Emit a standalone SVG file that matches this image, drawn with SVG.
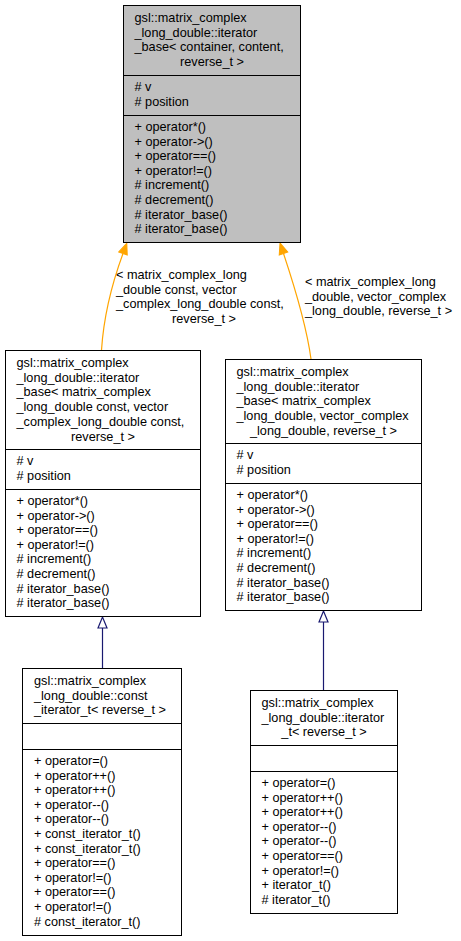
<svg xmlns="http://www.w3.org/2000/svg" width="461" height="941" viewBox="0 0 461 941">
<style>
text{font-family:"Liberation Sans",Arial,Helvetica,sans-serif;font-size:12.7px;fill:#000}
.c{text-anchor:middle}
.box{fill:#fff;stroke:#000;stroke-width:1}
.root{fill:#bfbfbf;stroke:#000;stroke-width:1}
.div{stroke:#000;stroke-width:1}
.tpl{fill:none;stroke:#ffa500;stroke-width:1.2}
.inh{fill:none;stroke:#191970;stroke-width:1.2}
</style>
<defs>
<marker id="ao" markerUnits="userSpaceOnUse" markerWidth="14" markerHeight="12" viewBox="0 -6 14 12" refX="0" refY="0" orient="auto" overflow="visible">
<path d="M0,-4.5 L11,0 L0,4.5 z" fill="#ffa500" stroke="#ffa500"/>
</marker>
<marker id="ab" markerUnits="userSpaceOnUse" markerWidth="14" markerHeight="12" viewBox="0 -6 14 12" refX="0" refY="0" orient="auto" overflow="visible">
<path d="M0,-4.5 L11,0 L0,4.5 z" fill="#fff" stroke="#191970" stroke-width="1.2"/>
</marker>
</defs>
<g id="edges">
<path class="tpl" d="M101.5,350 C104,312 114,278 123,253.5" marker-end="url(#ao)"/>
<path class="tpl" d="M311,359 C306,322 293,282 283.5,253.5" marker-end="url(#ao)"/>
<path class="inh" d="M102.5,668.5 L102.5,628" marker-end="url(#ab)"/>
<path class="inh" d="M323.5,690.5 L323.5,622" marker-end="url(#ab)"/>
<text x="116" y="279">&lt; matrix_complex_long</text>
<text x="116" y="293.6">_double const, vector</text>
<text x="116" y="308.2">_complex_long_double const,</text>
<text x="204" y="322.8" class="c">reverse_t &gt;</text>
<text x="305" y="286">&lt; matrix_complex_long</text>
<text x="305" y="300.6">_double, vector_complex</text>
<text x="305" y="315.2">_long_double, reverse_t &gt;</text>
</g>
<g id="node-base">
<rect class="root" x="123.5" y="5.5" width="177" height="237"/>
<line class="div" x1="123.5" y1="75.5" x2="300.5" y2="75.5"/>
<line class="div" x1="123.5" y1="115.5" x2="300.5" y2="115.5"/>
<text x="134.5" y="22">gsl::matrix_complex</text>
<text x="134.5" y="36.7">_long_double::iterator</text>
<text x="134.5" y="51.4">_base&lt; container, content,</text>
<text x="212" y="66.1" class="c">reverse_t &gt;</text>
<text x="134.5" y="91"># v</text>
<text x="134.5" y="105.6"># position</text>
<text x="134.5" y="131">+ operator*()</text>
<text x="134.5" y="145.6">+ operator-&gt;()</text>
<text x="134.5" y="160.2">+ operator==()</text>
<text x="134.5" y="174.8">+ operator!=()</text>
<text x="134.5" y="189.4"># increment()</text>
<text x="134.5" y="204"># decrement()</text>
<text x="134.5" y="218.6"># iterator_base()</text>
<text x="134.5" y="233.2"># iterator_base()</text>
</g>
<g id="node-const-base">
<rect class="box" x="5.5" y="350.5" width="195" height="266"/>
<line class="div" x1="5.5" y1="449.5" x2="200.5" y2="449.5"/>
<line class="div" x1="5.5" y1="489.5" x2="200.5" y2="489.5"/>
<text x="16.5" y="367">gsl::matrix_complex</text>
<text x="16.5" y="381.7">_long_double::iterator</text>
<text x="16.5" y="396.4">_base&lt; matrix_complex</text>
<text x="16.5" y="411.1">_long_double const, vector</text>
<text x="16.5" y="425.8">_complex_long_double const,</text>
<text x="103" y="440.5" class="c">reverse_t &gt;</text>
<text x="16.5" y="465"># v</text>
<text x="16.5" y="479.6"># position</text>
<text x="16.5" y="505">+ operator*()</text>
<text x="16.5" y="519.6">+ operator-&gt;()</text>
<text x="16.5" y="534.2">+ operator==()</text>
<text x="16.5" y="548.8">+ operator!=()</text>
<text x="16.5" y="563.4"># increment()</text>
<text x="16.5" y="578"># decrement()</text>
<text x="16.5" y="592.6"># iterator_base()</text>
<text x="16.5" y="607.2"># iterator_base()</text>
</g>
<g id="node-base-inst">
<rect class="box" x="225.5" y="359.5" width="196" height="251"/>
<line class="div" x1="225.5" y1="443.5" x2="421.5" y2="443.5"/>
<line class="div" x1="225.5" y1="483.5" x2="421.5" y2="483.5"/>
<text x="236.5" y="376">gsl::matrix_complex</text>
<text x="236.5" y="390.7">_long_double::iterator</text>
<text x="236.5" y="405.4">_base&lt; matrix_complex</text>
<text x="236.5" y="420.1">_long_double, vector_complex</text>
<text x="323.5" y="434.8" class="c">_long_double, reverse_t &gt;</text>
<text x="236.5" y="459"># v</text>
<text x="236.5" y="473.6"># position</text>
<text x="236.5" y="499">+ operator*()</text>
<text x="236.5" y="513.6">+ operator-&gt;()</text>
<text x="236.5" y="528.2">+ operator==()</text>
<text x="236.5" y="542.8">+ operator!=()</text>
<text x="236.5" y="557.4"># increment()</text>
<text x="236.5" y="572"># decrement()</text>
<text x="236.5" y="586.6"># iterator_base()</text>
<text x="236.5" y="601.2"># iterator_base()</text>
</g>
<g id="node-const-iterator">
<rect class="box" x="22.5" y="668.5" width="159" height="267"/>
<line class="div" x1="22.5" y1="723.5" x2="181.5" y2="723.5"/>
<line class="div" x1="22.5" y1="749.5" x2="181.5" y2="749.5"/>
<text x="34" y="685">gsl::matrix_complex</text>
<text x="34" y="699.7">_long_double::const</text>
<text x="34" y="714.4">_iterator_t&lt; reverse_t &gt;</text>
<text x="34" y="765">+ operator=()</text>
<text x="34" y="779.6">+ operator++()</text>
<text x="34" y="794.2">+ operator++()</text>
<text x="34" y="808.8">+ operator--()</text>
<text x="34" y="823.4">+ operator--()</text>
<text x="34" y="838">+ const_iterator_t()</text>
<text x="34" y="852.6">+ const_iterator_t()</text>
<text x="34" y="867.2">+ operator==()</text>
<text x="34" y="881.8">+ operator!=()</text>
<text x="34" y="896.4">+ operator==()</text>
<text x="34" y="911">+ operator!=()</text>
<text x="34" y="925.6"># const_iterator_t()</text>
</g>
<g id="node-iterator">
<rect class="box" x="250.5" y="690.5" width="147" height="223"/>
<line class="div" x1="250.5" y1="745.5" x2="397.5" y2="745.5"/>
<line class="div" x1="250.5" y1="771.5" x2="397.5" y2="771.5"/>
<text x="261.5" y="707">gsl::matrix_complex</text>
<text x="261.5" y="721.7">_long_double::iterator</text>
<text x="324" y="736.4" class="c">_t&lt; reverse_t &gt;</text>
<text x="261.5" y="787">+ operator=()</text>
<text x="261.5" y="801.6">+ operator++()</text>
<text x="261.5" y="816.2">+ operator++()</text>
<text x="261.5" y="830.8">+ operator--()</text>
<text x="261.5" y="845.4">+ operator--()</text>
<text x="261.5" y="860">+ operator==()</text>
<text x="261.5" y="874.6">+ operator!=()</text>
<text x="261.5" y="889.2">+ iterator_t()</text>
<text x="261.5" y="903.8"># iterator_t()</text>
</g>
</svg>
